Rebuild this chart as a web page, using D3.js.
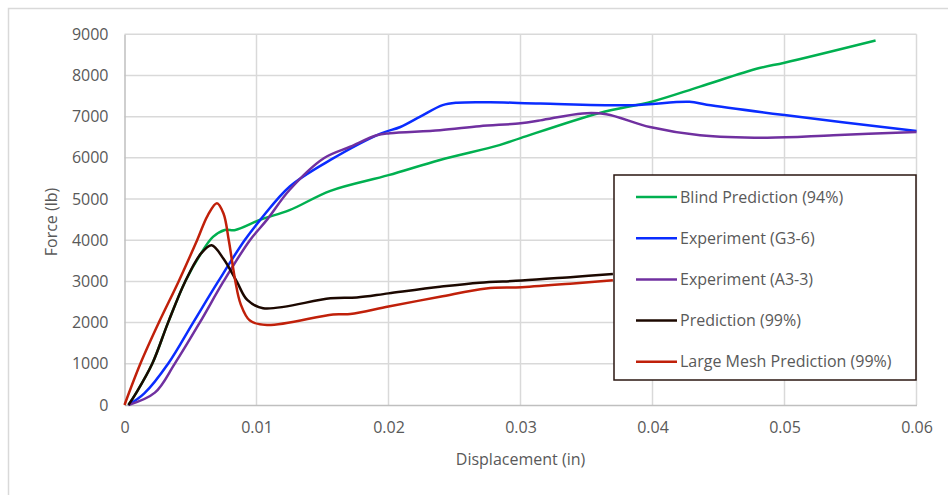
<!DOCTYPE html>
<html>
<head>
<meta charset="utf-8">
<script src="https://cdn.jsdelivr.net/npm/d3@7"></script>
<style>
  body { margin: 0; background: #fff; }
  svg text { font-family: "Open Sans", "Liberation Sans", sans-serif; fill: #595959; }
</style>
</head>
<body>
<div id="chart"></div>
<script>
const xTicks = [0, 0.01, 0.02, 0.03, 0.04, 0.05, 0.06];
const yTicks = [0, 1000, 2000, 3000, 4000, 5000, 6000, 7000, 8000, 9000];

const seriesNames = ['Blind Prediction (94%)', 'Experiment (G3-6)', 'Experiment (A3-3)', 'Prediction (99%)', 'Large Mesh Prediction (99%)'];
const seriesColors = ['#00b050', '#0a2cff', '#7030a0', '#1c0800', '#c0200a'];

const blindPrediction = [
  [0.0003, 0], [0.0009, 300], [0.0021, 1000], [0.0033, 2000], [0.0046, 3000], [0.0058, 3680],
  [0.0067, 4080], [0.0076, 4250], [0.0084, 4250], [0.0103, 4500], [0.0125, 4730],
  [0.0156, 5200], [0.02, 5580], [0.0239, 5950], [0.0284, 6310], [0.03, 6480],
  [0.036, 7090], [0.04, 7370], [0.0436, 7730], [0.0481, 8180], [0.05, 8310], [0.0569, 8850]
];
const experimentG36 = [
  [0.0003, 0], [0.0015, 280], [0.0033, 1000], [0.0052, 2000], [0.0071, 3000],
  [0.0091, 4000], [0.0103, 4500], [0.0125, 5300], [0.0156, 5950], [0.0194, 6590],
  [0.0209, 6750], [0.0224, 7000], [0.0241, 7280], [0.0252, 7340], [0.0277, 7350],
  [0.0315, 7320], [0.0385, 7280], [0.0428, 7360], [0.0441, 7290], [0.05, 7040], [0.06, 6650]
];
const experimentA33 = [
  [0.0003, 0], [0.0023, 300], [0.0038, 1000], [0.0057, 2000], [0.0075, 3000],
  [0.0095, 4000], [0.0108, 4500], [0.0125, 5220], [0.0151, 5990], [0.0171, 6270],
  [0.0191, 6550], [0.0201, 6600], [0.0239, 6670], [0.0269, 6770], [0.03, 6840],
  [0.0315, 6910], [0.0347, 7080], [0.0365, 7060], [0.0398, 6750], [0.0436, 6550],
  [0.0487, 6490], [0.0537, 6550], [0.06, 6630]
];
const prediction = [
  [0.0003, 0], [0.0009, 300], [0.0021, 1000], [0.0033, 2000], [0.0046, 3000], [0.0058, 3680],
  [0.0066, 3880], [0.0075, 3550], [0.0085, 3000], [0.0093, 2550], [0.0105, 2350],
  [0.0156, 2590], [0.0176, 2610], [0.02, 2710], [0.0239, 2870], [0.0269, 2970],
  [0.0301, 3020], [0.034, 3110], [0.037, 3180]
];
const largeMesh = [
  [0, 0], [0.0012, 1000], [0.0026, 2000], [0.0041, 3000], [0.0055, 4000],
  [0.0063, 4600], [0.0070, 4900], [0.0075, 4650], [0.0079, 4000], [0.0084, 3000],
  [0.0088, 2450], [0.0095, 2050], [0.0108, 1940], [0.0158, 2200], [0.0171, 2210],
  [0.02, 2390], [0.0239, 2630], [0.0274, 2830], [0.0301, 2860], [0.034, 2950], [0.037, 3030]
];
const seriesData = [blindPrediction, experimentG36, experimentA33, prediction, largeMesh];

const width = 948, height = 495;
const margin = { left: 124.5, right: 31.5, top: 34.3, bottom: 90 };

const svg = d3.select('#chart').append('svg')
  .attr('width', width)
  .attr('height', height);

// outer chart frame
svg.append('rect')
  .attr('x', 8.5).attr('y', 8.5)
  .attr('width', width + 20).attr('height', height + 20)
  .attr('fill', 'none').attr('stroke', '#d9d9d9').attr('stroke-width', 1.5);

const x = d3.scaleLinear().domain([0, 0.06]).range([margin.left, width - margin.right]);
const y = d3.scaleLinear().domain([0, 9000]).range([height - margin.bottom, margin.top]);

// gridlines
svg.append('g')
  .selectAll('line')
  .data(yTicks.slice(1))
  .join('line')
  .attr('x1', x(0)).attr('x2', x(0.06))
  .attr('y1', d => y(d)).attr('y2', d => y(d))
  .attr('stroke', '#d9d9d9').attr('stroke-width', 1.5);

svg.append('g')
  .selectAll('line')
  .data(xTicks.slice(1))
  .join('line')
  .attr('x1', d => x(d)).attr('x2', d => x(d))
  .attr('y1', y(0)).attr('y2', y(9000))
  .attr('stroke', '#d9d9d9').attr('stroke-width', 1.5);

// axes
const xAxis = svg.append('g')
  .attr('transform', `translate(0,${y(0)})`)
  .call(d3.axisBottom(x).tickValues(xTicks).tickSize(0).tickPadding(17).tickFormat(d => d === 0 ? '0' : d3.format('.2f')(d)));
xAxis.select('.domain').attr('stroke', '#bfbfbf').attr('stroke-width', 1.5);
xAxis.selectAll('text').style('font-size', '16px').attr('fill', '#595959');

const yAxis = svg.append('g')
  .attr('transform', `translate(${x(0)},0)`)
  .call(d3.axisLeft(y).tickValues(yTicks).tickSize(0).tickPadding(16).tickFormat(d3.format('d')));
yAxis.select('.domain').attr('stroke', '#bfbfbf').attr('stroke-width', 1.5);
yAxis.selectAll('text').style('font-size', '16px').attr('fill', '#595959');

svg.append('text')
  .attr('x', (x(0) + x(0.06)) / 2).attr('y', 465)
  .attr('text-anchor', 'middle')
  .style('font-size', '16px')
  .text('Displacement (in)');

svg.append('text')
  .attr('transform', 'translate(57,222) rotate(-90)')
  .attr('text-anchor', 'middle')
  .style('font-size', '16px')
  .text('Force (lb)');

// series lines
const line = d3.line()
  .x(d => x(d[0]))
  .y(d => y(d[1]))
  .curve(d3.curveCatmullRom.alpha(0.5));

svg.append('g')
  .selectAll('path')
  .data(seriesData)
  .join('path')
  .attr('d', line)
  .attr('fill', 'none')
  .attr('stroke', (d, i) => seriesColors[i])
  .attr('stroke-width', 2.5)
  .attr('stroke-linejoin', 'round');

// legend
const legend = svg.append('g');
legend.append('rect')
  .attr('x', 614).attr('y', 175)
  .attr('width', 302).attr('height', 205)
  .attr('fill', '#fff')
  .attr('stroke', '#2a1610').attr('stroke-width', 1.5);

const item = legend.selectAll('g')
  .data(seriesNames)
  .join('g')
  .attr('transform', (d, i) => `translate(636,${197 + i * 41.2})`);

item.append('line')
  .attr('x1', 0).attr('x2', 41)
  .attr('stroke', (d, i) => seriesColors[i])
  .attr('stroke-width', 2.5);

item.append('text')
  .attr('x', 44).attr('dy', '0.35em')
  .style('font-size', '16px')
  .text(d => d);
</script>
</body>
</html>
